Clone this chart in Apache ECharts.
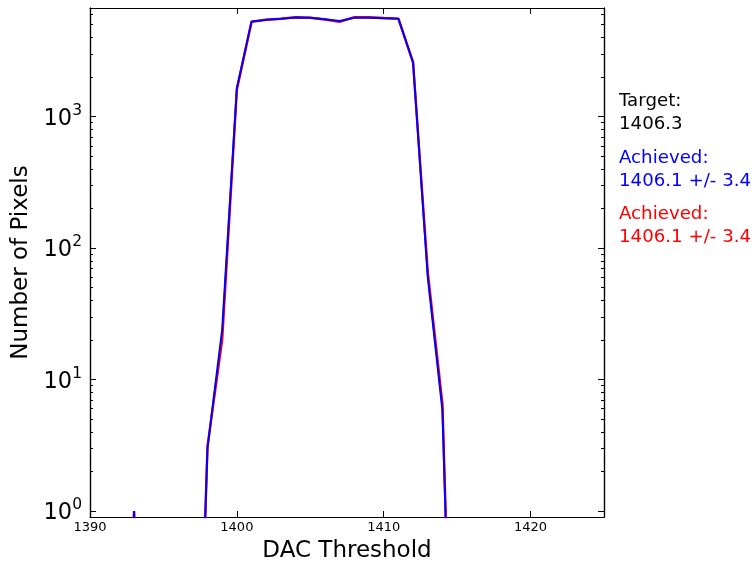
<!DOCTYPE html>
<html>
<head>
<meta charset="utf-8">
<script src="https://cdn.jsdelivr.net/npm/echarts@6/dist/echarts.min.js"></script>
<style>
html,body{margin:0;padding:0;background:#fff;}
#chart{width:755px;height:568px;}
</style>
</head>
<body>
<div id="chart"></div>
<script>
// DAC threshold bins
var thresholds = [1390,1391,1392,1393,1394,1395,1396,1397,1398,1399,1400,1401,1402,1403,1404,1405,1406,1407,1408,1409,1410,1411,1412,1413,1414,1415,1416,1417,1418,1419,1420,1421,1422,1423,1424,1425];
// pixel counts (blue = first "Achieved", red = second "Achieved")
var countsBlue = [0,0,0,1,0,0,0,0,3,24,1650,5300,5450,5550,5680,5650,5500,5330,5650,5650,5600,5560,2600,60,5.8,0,0,0,0,0,0,0,0,0,0,0];
var countsRed  = [0,0,0,1,0,0,0,0,3.1,20,1600,5250,5450,5550,5700,5650,5480,5250,5700,5700,5620,5560,2560,66,6.5,0,0,0,0,0,0,0,0,0,0,0];
var xTicks = [1390,1400,1410,1420];
var yMajorTicks = [1,10,100,1000];
var yMinorTicks = [2,3,4,5,6,7,8,9,20,30,40,50,60,70,80,90,200,300,400,500,600,700,800,900,2000,3000,4000,5000,6000];
var annotations = [
  {lines:['Target:','1406.3'], color:'#000000'},
  {lines:['Achieved:','1406.1 +/- 3.4'], color:'#0000ff'},
  {lines:['Achieved:','1406.1 +/- 3.4'], color:'#ff0000'}
];

// matplotlib-style clipping of non-positive values on a log axis
var CLIP = 1e-3;
function pairs(ys){ return thresholds.map(function(x,i){ return [x, ys[i] > 0 ? ys[i] : CLIP]; }); }

var FONT = 'DejaVu Sans';
var X_MIN = 1390, X_MAX = 1425, Y_MIN = 0.9, Y_MAX = 6700;
var axisLineStyle = {color:'#000', width:1.2};

function yAxisBase(pos, showLabel, ticks, len){
  return {
    type:'log', logBase:10, min:Y_MIN, max:Y_MAX, position:pos,
    axisLine:{show:true, onZero:false, lineStyle:axisLineStyle},
    axisTick:{show:true, inside:true, length:len, lineStyle:{color:'#000', width:1}, customValues:ticks},
    axisLabel:showLabel ? {
      show:true, margin:8, customValues:yMajorTicks,
      formatter:function(v){ return '{b|10}{s|' + Math.round(Math.log10(v)) + '}'; },
      rich:{ b:{fontFamily:FONT, fontSize:22.5, color:'#000', lineHeight:28, verticalAlign:'bottom'},
             s:{fontFamily:FONT, fontSize:15.5, color:'#000', verticalAlign:'top', lineHeight:17} }
    } : {show:false},
    splitLine:{show:false}
  };
}

var graphics = [];
var topY = 90;
annotations.forEach(function(a, k){
  graphics.push({
    type:'text', left:619, top:topY + k*56.5,
    style:{text:a.lines.join('\n'), fill:a.color, font:'18.2px "DejaVu Sans"', lineHeight:23}
  });
});

var chart = echarts.init(document.getElementById('chart'));
chart.setOption({
  animation:false,
  backgroundColor:'#fff',
  grid:{left:90, right:151, top:8, bottom:50, containLabel:false},
  xAxis:[
    {type:'value', min:X_MIN, max:X_MAX, position:'bottom',
     name:'DAC Threshold', nameLocation:'middle', nameGap:23,
     nameTextStyle:{fontFamily:FONT, fontSize:23, color:'#000', verticalAlign:'top'},
     axisLine:{show:true, onZero:false, lineStyle:axisLineStyle},
     axisTick:{show:true, inside:true, length:6, lineStyle:{color:'#000'}, customValues:xTicks},
     axisLabel:{show:true, margin:4, customValues:xTicks, fontFamily:FONT, fontSize:13, color:'#000',
                formatter:function(v){ return String(v); }},
     splitLine:{show:false}},
    {type:'value', min:X_MIN, max:X_MAX, position:'top',
     axisLine:{show:true, onZero:false, lineStyle:axisLineStyle},
     axisTick:{show:true, inside:true, length:6, lineStyle:{color:'#000'}, customValues:xTicks},
     axisLabel:{show:false}, splitLine:{show:false}}
  ],
  yAxis:[
    (function(){ var a = yAxisBase('left', true, yMajorTicks, 6);
      a.name='Number of Pixels'; a.nameLocation='middle'; a.nameGap=51;
      a.nameTextStyle={fontFamily:FONT, fontSize:23, color:'#000'}; return a; })(),
    yAxisBase('left', false, yMinorTicks, 3),
    yAxisBase('right', false, yMajorTicks, 6),
    yAxisBase('right', false, yMinorTicks, 3)
  ],
  graphic:graphics,
  series:[
    {type:'line', name:'red', xAxisIndex:0, yAxisIndex:0, data:pairs(countsRed),
     showSymbol:false, symbol:'none', clip:true, lineStyle:{color:'#ff0000', width:2.4}, z:2},
    {type:'line', name:'blue', xAxisIndex:0, yAxisIndex:0, data:pairs(countsBlue),
     showSymbol:false, symbol:'none', clip:true, lineStyle:{color:'#0000ff', width:2}, z:3}
  ]
});
</script>
</body>
</html>
